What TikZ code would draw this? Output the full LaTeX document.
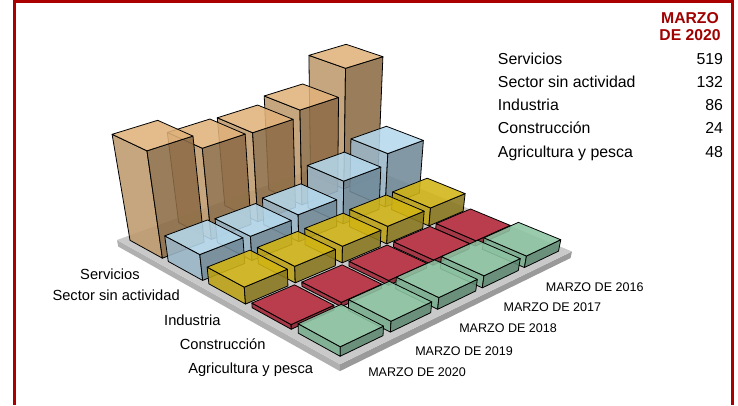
\documentclass[tikz,border=0pt]{standalone}
\usepackage{fontspec}
\setmainfont{Liberation Sans}
\definecolor{frm}{HTML}{AA0000}
\definecolor{ttlred}{HTML}{A00000}
\definecolor{floortop}{HTML}{C9C9C9}
\definecolor{floorlft}{HTML}{B0B0B0}
\definecolor{floorrgt}{HTML}{9A9A9A}
% Servicios
\definecolor{top0}{HTML}{E0B27B}
\definecolor{lft0}{HTML}{BE9A6C}
\definecolor{rgt0}{HTML}{8C6C46}
% Sector sin actividad
\definecolor{top1}{HTML}{B5D8EC}
\definecolor{lft1}{HTML}{9BB7C9}
\definecolor{rgt1}{HTML}{718A99}
% Industria
\definecolor{top2}{HTML}{D2B414}
\definecolor{lft2}{HTML}{BDA214}
\definecolor{rgt2}{HTML}{88781D}
% Construccion
\definecolor{top3}{HTML}{B82A3C}
\definecolor{lft3}{HTML}{A02434}
\definecolor{rgt3}{HTML}{8A1E2D}
% Agricultura y pesca
\definecolor{top4}{HTML}{8DC4A2}
\definecolor{lft4}{HTML}{78AD8D}
\definecolor{rgt4}{HTML}{5D8971}

% point (X = year, Y = sector, Z = value/100) seen in perspective
\newcommand\bpt[4]{%
  \pgfmathsetmacro\bpw{1+0.026455*#2-0.029635*#3-0.01608*#4}%
  \pgfmathsetmacro\bpx{(117+53.307*#2+33.221*#3-5.258*#4)/\bpw}%
  \pgfmathsetmacro\bpy{(240-11.905*#2+13.336*#3-22.576*#4)/\bpw}%
  \coordinate (#1) at (\bpx,\bpy);}

\begin{document}
\begin{tikzpicture}[
  x=0.75pt, y=-0.75pt,
  face/.style={draw=black, line width=0.6pt, line join=round, fill opacity=0.88},
  leg/.style={font=\fontsize{11.9}{14}\selectfont, inner sep=0pt},
  cat/.style={font=\fontsize{11}{13}\selectfont, inner sep=0pt, anchor=base east},
  yr/.style={font=\fontsize{9.4}{11}\selectfont, inner sep=0pt, anchor=base west},
  ttl/.style={font=\bfseries\fontsize{11.8}{13}\selectfont, text=ttlred, inner sep=0pt, anchor=base}
]
\useasboundingbox (0,0) rectangle (738,405);
\draw[draw=frm, line width=2.1pt] (14.7,405) -- (14.7,1.4) -- (732.7,1.4) -- (732.7,405);

% floor
\bpt{f1}{0}{0}{0} \bpt{f2}{5.15}{0}{0} \bpt{f3}{5.15}{5.15}{0} \bpt{f4}{0}{5.15}{0}
\bpt{g1}{0}{0}{-0.35} \bpt{g3}{5.15}{5.15}{-0.35} \bpt{g4}{0}{5.15}{-0.35}
\fill[floorlft] (g1) -- (g4) -- (f4) -- (f1) -- cycle;
\fill[floorrgt] (g4) -- (g3) -- (f3) -- (f4) -- cycle;
\fill[floortop] (f1) -- (f2) -- (f3) -- (f4) -- cycle;

% bars, 2016 first
\foreach \hs [count=\j from 0] in {{6.06,4.80,4.47,4.52,5.19},{2.78,2.22,1.40,1.25,1.32},{0.95,0.92,0.86,0.85,0.86},{0.28,0.27,0.25,0.22,0.24},{0.60,0.62,0.60,0.55,0.48}}{
  \foreach \h [count=\k] in \hs {
    \pgfmathsetmacro\xa{5.15-\k}
    \pgfmathsetmacro\xb{\xa+0.85}
    \pgfmathsetmacro\ya{\j+0.15}
    \pgfmathsetmacro\yb{\j+1}
    \bpt{b1}{\xa}{\ya}{0} \bpt{b3}{\xb}{\yb}{0} \bpt{b4}{\xa}{\yb}{0}
    \bpt{h1}{\xa}{\ya}{\h} \bpt{h2}{\xb}{\ya}{\h} \bpt{h3}{\xb}{\yb}{\h} \bpt{h4}{\xa}{\yb}{\h}
    \filldraw[face, fill=lft\j] (b1) -- (b4) -- (h4) -- (h1) -- cycle;
    \filldraw[face, fill=rgt\j] (b4) -- (b3) -- (h3) -- (h4) -- cycle;
    \filldraw[face, fill=top\j] (h1) -- (h2) -- (h3) -- (h4) -- cycle;
  }
}

% labels
\foreach \name/\xr/\yb [count=\n] in {Servicios/140/279, Sector sin actividad/180/300.7, Industria/220.7/325, Construcción/265.7/349, Agricultura y pesca/313.3/373}
  \node[cat] (cat\n) at (\xr,\yb) {\name};
\foreach \yy/\xl/\yb in {2016/545.7/291, 2017/503.3/311, 2018/459/332.7, 2019/415/355, 2020/368/376.7}
  \node[yr] (yr\yy) at (\xl,\yb) {MARZO DE \yy};

% legend
\node[ttl] (ttl1) at (690,23.3) {MARZO};
\node[ttl] (ttl2) at (690,40.7) {DE 2020};
\foreach \name/\val [count=\n from 0] in {Servicios/519, Sector sin actividad/132, Industria/86, Construcción/24, Agricultura y pesca/48}{
  \node[leg, anchor=base west] (leg\n) at (497.7,64.3+23.2*\n) {\name};
  \node[leg, anchor=base east] (val\n) at (723.3,64.3+23.2*\n) {\val};
}
\end{tikzpicture}
\end{document}
